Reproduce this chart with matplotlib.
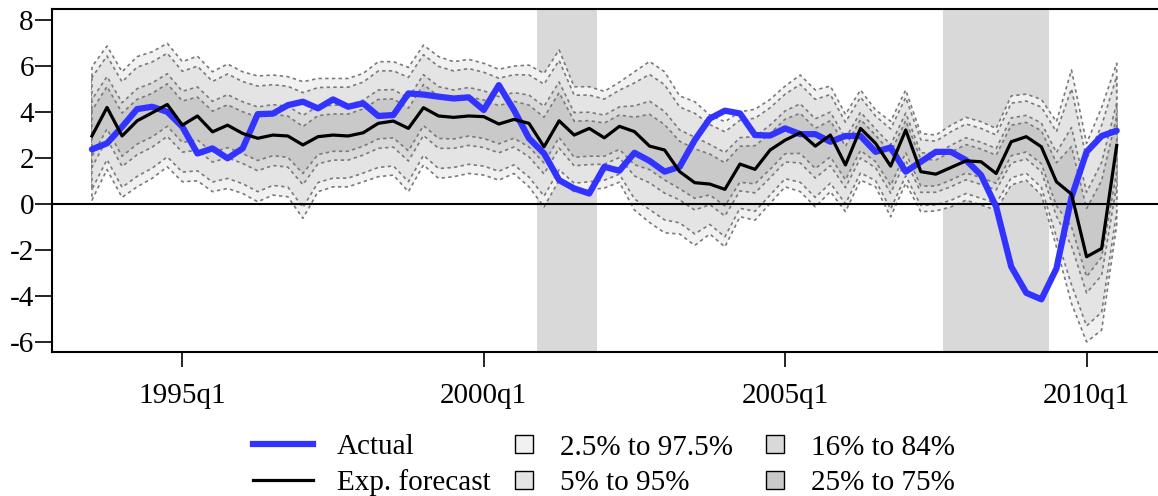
import numpy as np
import matplotlib
matplotlib.use("Agg")
import matplotlib.pyplot as plt
from matplotlib.lines import Line2D

plt.rcParams['font.family'] = ['Liberation Serif', 'DejaVu Serif']
plt.rcParams['axes.unicode_minus'] = False

# quarterly series, 1993q3 .. 2010q3
start_year, start_q = 1993, 3
actual = [2.38, 2.64, 3.36, 4.13, 4.23, 4.01, 3.36, 2.20, 2.42, 1.99,
          2.42, 3.91, 3.93, 4.30, 4.45, 4.16, 4.55, 4.23, 4.38, 3.83,
          3.87, 4.81, 4.76, 4.67, 4.59, 4.64, 4.09, 5.17, 4.09, 2.86,
          2.20, 1.04, 0.68, 0.46, 1.62, 1.45, 2.23, 1.88, 1.41, 1.62,
          2.78, 3.72, 4.06, 3.94, 3.00, 2.98, 3.29, 3.04, 3.04, 2.71,
          2.96, 2.96, 2.27, 2.46, 1.41, 1.84, 2.27, 2.27, 1.91, 1.26,
          -0.12, -2.72, -3.86, -4.14, -2.80, 0.30, 2.27, 2.96, 3.19]
forecast = [2.96, 4.20, 2.96, 3.62, 3.97, 4.33, 3.43, 3.83, 3.14, 3.43,
            3.07, 2.86, 3.00, 2.96, 2.57, 2.93, 3.00, 2.96, 3.10, 3.51,
            3.61, 3.29, 4.19, 3.83, 3.77, 3.83, 3.80, 3.48, 3.68, 3.51,
            2.49, 3.62, 3.00, 3.29, 2.88, 3.38, 3.15, 2.52, 2.35, 1.41,
            0.93, 0.87, 0.64, 1.74, 1.51, 2.35, 2.78, 3.10, 2.52, 3.00,
            1.70, 3.29, 2.64, 1.65, 3.22, 1.41, 1.30, 1.59, 1.88, 1.84,
            1.33, 2.71, 2.93, 2.49, 0.97, 0.43, -2.29, -1.93, 2.55]
# outer band edges (2.5% and 97.5%)
band_hi = [5.97, 6.87, 5.75, 6.41, 6.62, 6.99, 6.19, 6.43, 5.75, 6.09,
           5.75, 5.57, 5.61, 5.54, 5.32, 5.46, 5.46, 5.46, 5.68, 6.19,
           6.19, 5.94, 6.91, 6.41, 6.19, 6.29, 6.12, 5.86, 6.00, 6.04,
           5.68, 6.70, 5.10, 5.10, 4.90, 5.30, 5.75, 6.20, 5.75, 4.70,
           4.45, 3.87, 3.58, 4.01, 4.12, 4.55, 5.13, 5.61, 4.96, 5.13,
           3.90, 4.96, 4.09, 3.60, 4.96, 3.07, 3.00, 3.43, 3.77, 3.58,
           3.29, 4.70, 4.78, 4.55, 3.58, 5.83, 2.64, 4.20, 6.12]
band_lo = [0.17, 1.50, 0.29, 0.75, 1.12, 1.62, 0.97, 1.01, 0.54, 0.68,
           0.46, 0.10, 0.39, 0.32, -0.62, 0.54, 0.75, 0.75, 0.97, 1.19,
           1.26, 0.54, 1.70, 1.12, 1.19, 1.33, 1.26, 1.04, 1.33, 0.75,
           -0.12, 1.04, 0.54, 0.61, 0.70, 0.95, -0.26, -0.80, -1.25, -1.30,
           -1.80, -1.30, -1.86, -0.55, -0.70, 0.03, 0.75, 0.54, -0.12, 0.54,
           -0.33, 1.04, 0.75, -0.55, 0.90, -0.33, -0.30, -0.12, 0.17, -0.04,
           -0.26, 0.83, 1.04, 0.39, -1.86, -4.32, -5.99, -5.48, -0.90]

recessions = [('2001q1', '2001q4'), ('2007q4', '2009q2')]
tick_labels = ['1995q1', '2000q1', '2005q1', '2010q1']
band_labels = ['2.5% to 97.5%', '5% to 95%', '16% to 84%', '25% to 75%']
band_z = [1.96, 1.645, 0.994, 0.674]
band_colors = ['#f1f1f1', '#e4e4e4', '#d9d9d9', '#c9c9c9']

n = len(actual)
quarters = []
for i in range(n):
    k = start_q - 1 + i
    quarters.append(f'{start_year + k // 4}q{k % 4 + 1}')
x = np.arange(n)

hi = np.array(band_hi)
lo = np.array(band_lo)
mid = (hi + lo) / 2
sd = (hi - lo) / (2 * 1.96)

W, H = 1158, 496
fig = plt.figure(figsize=(W / 100, H / 100), dpi=100)
ax = fig.add_axes([52 / W, 144 / H, 1106 / W, 343 / H])
ax.set_xlim(-2.65, 70.74)
ax.set_ylim(-6.43, 8.48)

for a, b in recessions:
    ax.axvspan(quarters.index(a) - 0.5, quarters.index(b) + 0.5,
               color='#d9d9d9', lw=0, zorder=0)

for z, c in zip(band_z, band_colors):
    ax.fill_between(x, mid - z * sd, mid + z * sd, facecolor=c,
                    edgecolor='#7a7a7a', linestyle=(0, (2, 2)),
                    linewidth=1.2, zorder=1)

ax.axhline(0, color='black', lw=1.5, zorder=2)
ax.plot(x, actual, color='#3333ff', lw=4.5, zorder=3, solid_capstyle='round')
ax.plot(x, forecast, color='black', lw=2.3, zorder=4)

ax.set_xticks([quarters.index(t) for t in tick_labels], tick_labels)
ax.set_yticks(range(-6, 9, 2))
ax.tick_params(axis='x', length=11, width=1.2, pad=11, labelsize=21)
ax.tick_params(axis='y', length=12, width=1.2, pad=1, labelsize=21)
ax.spines['right'].set_visible(False)
for s in ['left', 'top', 'bottom']:
    ax.spines[s].set_linewidth(1.5)

# legend, three columns
fs = 21
line_h = [Line2D([], [], color='#3333ff', lw=4.5),
          Line2D([], [], color='black', lw=2.3)]
fig.legend(line_h, ['Actual', 'Exp. forecast'], loc='center left',
           bbox_to_anchor=(253 / W, 1 - 465 / H), frameon=False, fontsize=fs,
           handlelength=2.05, handletextpad=0.82, borderpad=0, borderaxespad=0,
           labelspacing=0.3)
box_h = [Line2D([], [], marker='s', markersize=13, markerfacecolor=c,
                markeredgecolor='black', markeredgewidth=1.0, linestyle='none')
         for c in band_colors]
for j, x0 in enumerate([509.4, 760.4]):
    fig.legend(box_h[2 * j:2 * j + 2], band_labels[2 * j:2 * j + 2],
               loc='center left', bbox_to_anchor=(x0 / W, 1 - 465 / H),
               frameon=False, fontsize=fs, handlelength=1.0,
               handletextpad=0.73, borderpad=0, borderaxespad=0,
               labelspacing=0.3)

fig.savefig('out.png', dpi=100)
